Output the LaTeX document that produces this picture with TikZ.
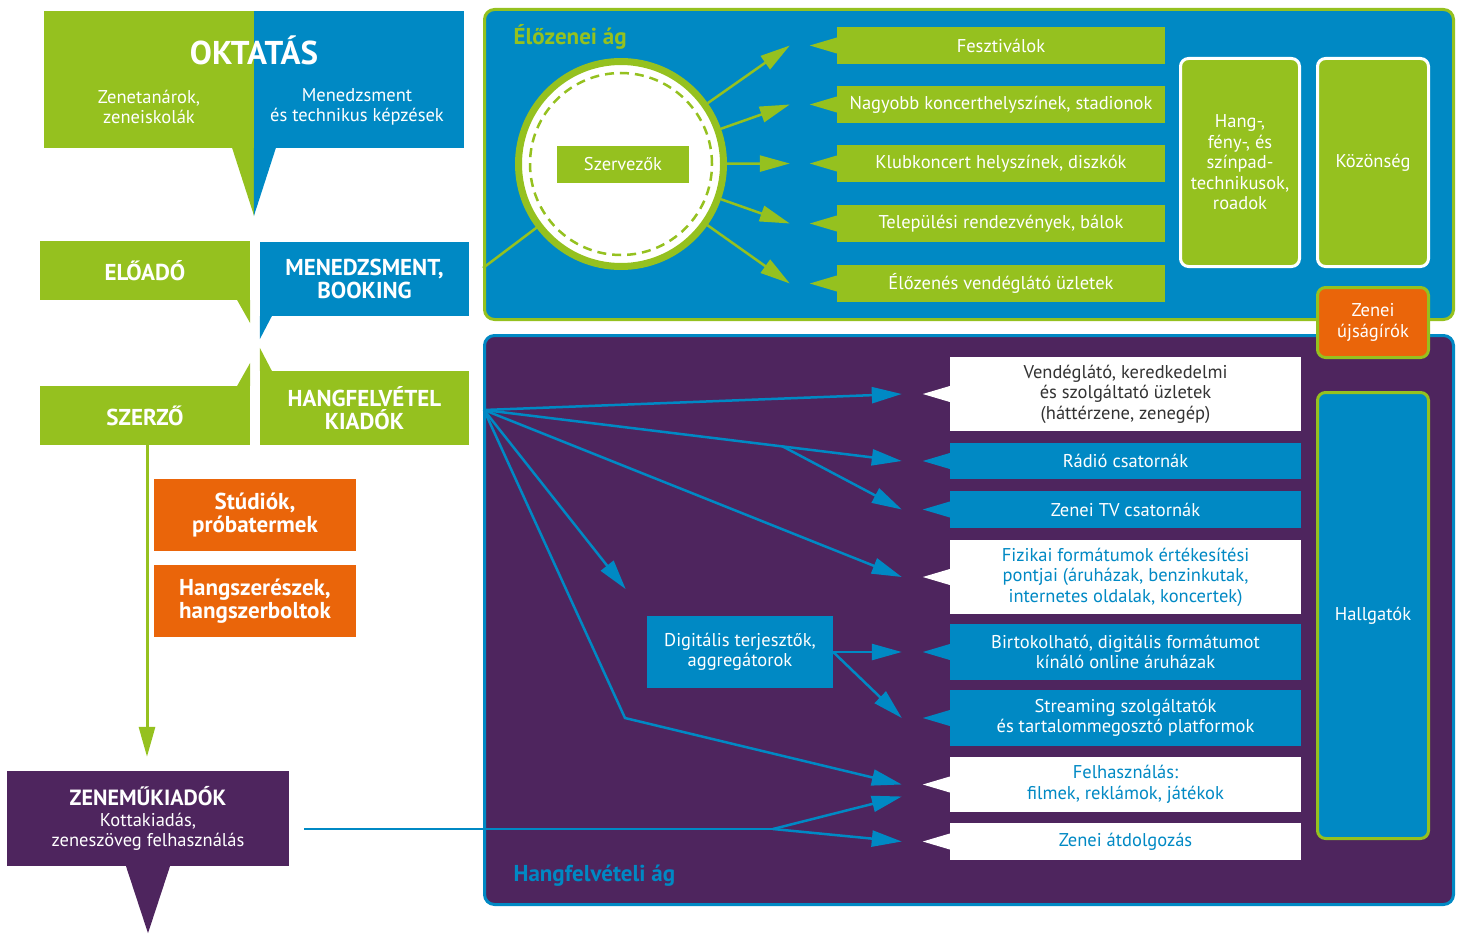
\documentclass[tikz,border=0pt]{standalone}
\usepackage{fontspec}
\setmainfont{PT Sans}
\usetikzlibrary{positioning, arrows.meta, calc}

\definecolor{zold}{HTML}{95C11F}
\definecolor{kek}{HTML}{0089C4}
\definecolor{lila}{HTML}{4E255E}
\definecolor{narancs}{HTML}{EA650A}
\definecolor{sotet}{HTML}{333333}

\begin{document}
\begin{tikzpicture}[
    x=1pt, y=-1pt,
    >={Triangle[length=30pt, width=16pt]},
    normal/.style={font=\fontsize{18.5}{20.5}\selectfont, align=center, text=white},
    vastag/.style={font=\fontsize{23}{23.5}\selectfont\bfseries, align=center, text=white, inner sep=0pt},
    zoldcel/.style={normal, fill=zold, minimum width=328pt, minimum height=37pt, inner sep=0pt},
    kekcel/.style={normal, fill=kek, minimum width=351pt, inner sep=0pt},
    fehercel/.style={normal, fill=white, text=kek, minimum width=351pt, inner sep=0pt},
    oszlop/.style={normal, rounded corners=8pt, line width=3pt, minimum width=111pt, inner sep=0pt},
    zoldnyil/.style={->, draw=zold, line width=2.5pt},
    keknyil/.style={->, draw=kek, line width=2.5pt}
]
    \useasboundingbox (0,0) rectangle (1463,934);

    % --- Oktatás ---
    \node[fill=zold, minimum width=210pt, minimum height=137pt, inner sep=0pt] (oktzold) at (149,79.5) {};
    \node[fill=kek, minimum width=210pt, minimum height=137pt, inner sep=0pt] (oktkek) at (359,79.5) {};
    \fill[zold] (oktzold.south east) -- ++(-22,0) -- ++(22,68) -- cycle;
    \fill[kek] (oktkek.south west) -- ++(22,0) -- ++(-22,68) -- cycle;
    \node[font=\fontsize{33}{33}\selectfont\bfseries, text=white] (oktatas) at (254,50) {OKTATÁS};
    \node[normal] (zenetanar) at (149,107) {Zenetanárok,\\zeneiskolák};
    \node[normal] (menkepzes) at (357,107) {Menedzsment\\és technikus képzések};

    % --- Szereplők ---
    \node[vastag, fill=zold, minimum width=210pt, minimum height=59pt] (eloado) at (145,270.5) {ELŐADÓ};
    \node[vastag, fill=kek, minimum width=209pt, minimum height=74pt] (menedzsment) at (364.5,279) {MENEDZSMENT,\\BOOKING};
    \node[vastag, fill=zold, minimum width=210pt, minimum height=59pt] (szerzo) at (145,415.5) {SZERZŐ};
    \node[vastag, fill=zold, minimum width=209pt, minimum height=74pt] (kiado) at (364.5,408) {HANGFELVÉTEL\\KIADÓK};
    \fill[zold] (eloado.south east) -- ++(-13,0) -- ++(13,23) -- cycle;
    \fill[kek] (menedzsment.south west) -- ++(12,0) -- ++(-12,23) -- cycle;
    \fill[zold] (szerzo.north east) -- ++(-13,0) -- ++(13,-23) -- cycle;
    \fill[zold] (kiado.north west) -- ++(12,0) -- ++(-12,-23) -- cycle;

    \node[vastag, fill=narancs, minimum width=202pt, minimum height=72pt] (studio) at (255,515) {Stúdiók,\\próbatermek};
    \node[vastag, fill=narancs, minimum width=202pt, minimum height=72pt] (hangszer) at (255,601) {Hangszerészek,\\hangszerboltok};

    \node[normal, fill=lila, minimum width=282pt, minimum height=95pt, inner sep=0pt] (zenemu) at (148,818.5)
        {{\fontsize{22}{21}\selectfont\bfseries ZENEMŰKIADÓK}\\Kottakiadás,\\zeneszöveg felhasználás};
    \fill[lila] (zenemu.south) ++(-22,0) -- ++(44,0) -- ++(-22,67) -- cycle;

    \draw[zoldnyil, line width=3pt, shorten >=14pt] ([xshift=2pt]szerzo.south) -- ([xshift=2pt]szerzo.south |- zenemu.north);

    % ==================================================
    % ÉLŐZENEI ÁG
    % ==================================================
    \node[draw=zold, fill=kek, rounded corners=10pt, line width=3pt, minimum width=969pt, minimum height=310pt] (elozenei) at (969,164.5) {};
    \node[font=\fontsize{23}{24}\selectfont\bfseries, text=zold, anchor=west] (elocim) at (510,37) {Élőzenei ág};

    \coordinate (elobe) at (483,268);
    \draw[zold, line width=2.5pt] (elobe) -- (621,164);

    \node[circle, draw=zold, fill=white, line width=7pt, minimum size=205pt, inner sep=0pt] (kor) at (621,164) {};
    \draw[zold, line width=2.5pt, dash pattern=on 9pt off 6pt] (kor.center) circle[radius=91pt];
    \node[normal, fill=zold, minimum width=132pt, minimum height=37pt, inner sep=0pt] (szervezok) at (623,164.5) {Szervezők};

    \node[zoldcel] (fesztival) at (1001,45.5) {Fesztiválok};
    \node[zoldcel] (nagyobb) at (1001,104.5) {Nagyobb koncerthelyszínek, stadionok};
    \node[zoldcel] (klub) at (1001,163.5) {Klubkoncert helyszínek, diszkók};
    \node[zoldcel] (telepulesi) at (1001,223.5) {Települési rendezvények, bálok};
    \node[zoldcel] (elozenes) at (1001,283.5) {Élőzenés vendéglátó üzletek};

    \foreach \n in {fesztival,nagyobb,klub,telepulesi,elozenes} {
        \fill[zold] (\n.west) ++(0,-8) -- ++(-27,8) -- ++(27,8) -- cycle;
        \coordinate (\n-be) at ([xshift=-47pt]\n.west);
        \draw[zoldnyil] (kor) -- (\n-be);
    }

    \node[oszlop, draw=white, fill=zold, minimum width=119pt, minimum height=208pt] (technikus) at (1240,162.5)
        {Hang-,\\fény-, és\\színpad-\\technikusok,\\roadok};
    \node[oszlop, draw=white, fill=zold, minimum height=208pt] (kozonseg) at (1373,162.5) {Közönség};

    % ==================================================
    % HANGFELVÉTELI ÁG
    % ==================================================
    \node[draw=kek, fill=lila, rounded corners=10pt, line width=3pt, minimum width=969pt, minimum height=569pt] (hangfelv) at (969,620) {};
    \node[font=\fontsize{23}{24}\selectfont\bfseries, text=kek, anchor=west] (hangcim) at (510,876) {Hangfelvételi ág};

    \node[fehercel, text=sotet, minimum height=74pt] (vendeglato) at (1125.5,394) {Vendéglátó, keredkedelmi\\és szolgáltató üzletek\\(háttérzene, zenegép)};
    \node[kekcel, minimum height=36pt] (radio) at (1125.5,461) {Rádió csatornák};
    \node[kekcel, minimum height=37pt] (tv) at (1125.5,509.5) {Zenei TV csatornák};
    \node[fehercel, minimum height=74pt] (fizikai) at (1125.5,577) {Fizikai formátumok értékesítési\\pontjai (áruházak, benzinkutak,\\internetes oldalak, koncertek)};
    \node[kekcel, minimum height=56pt] (birtokolhato) at (1125.5,652) {Birtokolható, digitális formátumot\\kínáló online áruházak};
    \node[kekcel, minimum height=56pt] (streaming) at (1125.5,718) {Streaming szolgáltatók\\és tartalommegosztó platformok};
    \node[fehercel, minimum height=55pt] (felhasznalas) at (1125.5,784.5) {Felhasználás:\\filmek, reklámok, játékok};
    \node[fehercel, minimum height=37pt] (atdolgozas) at (1125.5,841.5) {Zenei átdolgozás};

    \foreach \n/\c in {vendeglato/white,radio/kek,tv/kek,fizikai/white,birtokolhato/kek,streaming/kek,felhasznalas/white,atdolgozas/white} {
        \fill[\c] (\n.west) ++(0,-8) -- ++(-27,8) -- ++(27,8) -- cycle;
        \coordinate (\n-be) at ([xshift=-48pt]\n.west);
    }

    \node[normal, fill=kek, minimum width=186pt, minimum height=72pt, inner sep=0pt] (digitalis) at (740,652) {Digitális terjesztők,\\aggregátorok};

    \coordinate (forras) at (484,410);
    \coordinate (elagazas) at ($(forras)!0.715!(radio-be)$);
    \coordinate (tores) at (625,718);
    \coordinate (zmki) at (304,829);
    \coordinate (zmag) at (773,829);

    \draw[keknyil] (forras) -- (vendeglato-be);
    \draw[keknyil] (forras) -- (radio-be);
    \draw[keknyil] (elagazas) -- (tv-be);
    \draw[keknyil] (forras) -- (fizikai-be);
    \draw[keknyil, shorten >=34pt] (forras) -- (digitalis.north west);
    \draw[keknyil] (forras) -- (tores) -- (felhasznalas-be);
    \draw[keknyil] (digitalis.east) -- (birtokolhato-be);
    \draw[keknyil] (digitalis.east) -- (streaming-be);
    \draw[kek, line width=2.5pt] (zmki) -- (zmag);
    \draw[keknyil] (zmag) -- ([yshift=-12pt]felhasznalas-be);
    \draw[keknyil] (zmag) -- (atdolgozas-be);

    % --- Közönség oldal ---
    \node[oszlop, draw=zold, fill=narancs, minimum height=70pt] (ujsagiro) at (1373,322.5) {Zenei\\újságírók};
    \node[oszlop, draw=zold, fill=kek, minimum height=446pt] (hallgatok) at (1373,615.5) {Hallgatók};

\end{tikzpicture}
\end{document}
